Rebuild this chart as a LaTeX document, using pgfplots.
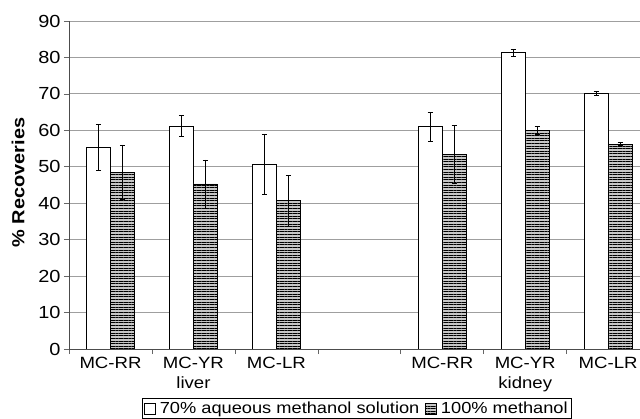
\documentclass[border=0pt]{standalone}
\usepackage{pgfplots}
\pgfplotsset{compat=1.18}
\usepackage{fontspec}
\setmainfont{Liberation Sans}[FakeStretch=1.14]
\usetikzlibrary{patterns.meta}

% recovery data: x position, mean, error
\pgfplotstableread{
x  y     e
0  55.3  6.3
1  61.2  2.8
2  50.7  8.3
4  61.0  4.0
5  81.3  1.0
6  70.1  0.5
}\aqueous
\pgfplotstableread{
x  y     e
0  48.5  7.5
1  45.3  6.6
2  40.7  7.0
4  53.4  8.0
5  60.0  1.1
6  56.2  0.4
}\methanol

\tikzset{hatchbar/.style={fill=gray!45,
  postaction={pattern={Lines[angle=0,distance=2.6bp,line width=0.9bp]},pattern color=black}}}

\begin{document}
\begin{tikzpicture}
\useasboundingbox (0,0) rectangle (640bp,419bp);
\begin{axis}[
  at={(69bp,70bp)}, anchor=south west,
  scale only axis, width=571bp, height=328bp,
  ybar=0pt, bar width=24bp,
  xmin=-0.5, xmax=6.384, ymin=0, ymax=90,
  ytick={0,10,...,90},
  xtick={0,1,2,4,5,6},
  xticklabels={MC-RR,{MC-YR\\liver},MC-LR,MC-RR,{MC-YR\\kidney},MC-LR},
  minor xtick={-0.5,0.5,1.5,2.5,3.5,4.5,5.5},
  major x tick style={draw=none},
  minor tick length=5bp, major tick length=5bp,
  tick align=outside,
  tick style={gray!80!black, line width=0.6bp},
  axis x line*=bottom, axis y line*=left,
  axis line style={gray!60!black, line width=0.8bp},
  ymajorgrids, grid style={gray!75, line width=0.8bp},
  /pgf/number format/assume math mode=true,
  yticklabel style={font=\fontsize{17.5bp}{19bp}\selectfont},
  xticklabel style={align=center, font=\fontsize{16.3bp}{20bp}\selectfont},
  ylabel={\% Recoveries},
  ylabel style={at={(rel axis cs:-0.0893,0.5076)}, anchor=center, font=\bfseries\fontsize{17.5bp}{20bp}\selectfont},
  error bars/y dir=both, error bars/y explicit,
  error bars/error bar style={black, line width=0.7bp},
  error bars/error mark options={rotate=90, mark size=2.6bp, line width=0.7bp},
  legend columns=2,
  legend style={at={(0.5044,-0.1494)}, anchor=north, draw=black, line width=0.6bp,
    font=\fontsize{16bp}{18bp}\selectfont, inner xsep=2bp, inner ysep=1.5bp,
    /tikz/every even column/.append style={column sep=4bp}},
  legend image code/.code={\draw[#1, line width=0.5bp] (0bp,-5.5bp) rectangle (11bp,5.5bp); \path (13bp,0bp);},
]
\addplot[draw=black, fill=white, line width=0.6bp] table[x=x, y=y, y error=e] {\aqueous};
\addplot[draw=black, hatchbar, line width=0.6bp] table[x=x, y=y, y error=e] {\methanol};
\legend{70\% aqueous methanol solution, 100\% methanol}
\end{axis}
\end{tikzpicture}
\end{document}
